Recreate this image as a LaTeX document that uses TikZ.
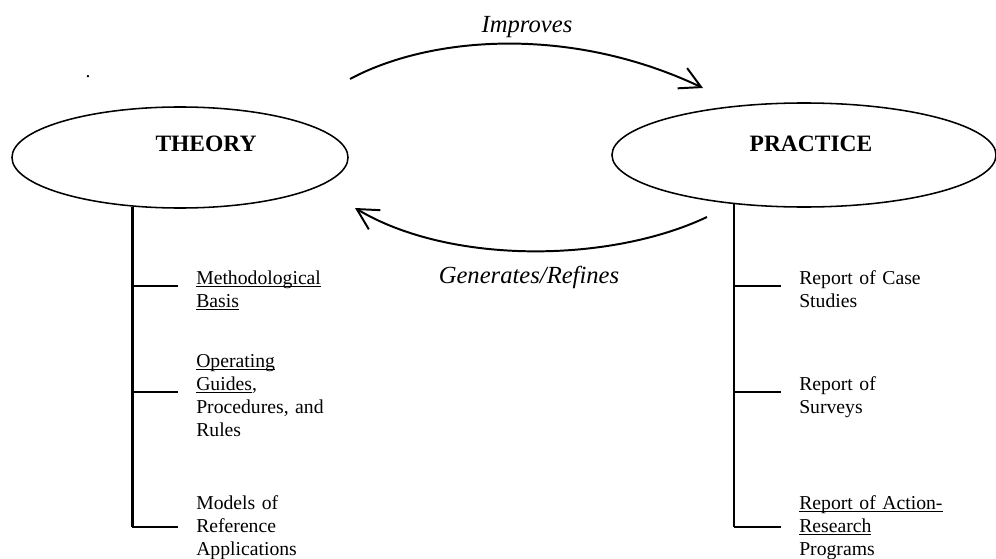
\documentclass[tikz,border=0pt]{standalone}
\usepackage{fontspec}
\setmainfont{Liberation Serif}
\usepackage{tikz}
\usetikzlibrary{
	arrows.meta,
	shapes.geometric,
	positioning,
	calc
}
\newlength{\ulwidth}
\newcommand{\ulword}[1]{\leavevmode\settowidth{\ulwidth}{#1}\rlap{\rule[-2.2pt]{\ulwidth}{0.6pt}}#1}

\begin{document}
\begin{tikzpicture}[
					x=0.025cm, y=-0.025cm,
					oval/.style={
							ellipse,
							draw=black,
							line width=1.1pt,
							inner sep=0pt
						},
					oval_label/.style={
							inner sep=0pt,
							font=\fontsize{16.7}{20}\selectfont\bfseries
						},
					flow/.style={
							line width=1.4pt,
							-{Straight Barb[length=5.2mm, width=5.6mm]}
						},
					flow_label/.style={
							inner sep=0pt,
							font=\fontsize{17.5}{21}\selectfont\itshape
						},
					item/.style={
							anchor=base west,
							inner sep=0pt,
							align=left,
							text width=4cm,
							font=\fontsize{14}{16.4}\selectfont
						},
					spine/.style={
							line width=1.5pt
						},
					branch/.style={
							line width=1.5pt,
							shorten >=4.5mm
						}
				]
				\useasboundingbox (0,0) rectangle (996,559);

				\node[oval, minimum width=8.4cm, minimum height=2.525cm] (theory) at (180,157.5) {};
				\node[oval, minimum width=9.6cm, minimum height=2.6cm] (practice) at (804,155) {};
				\node[oval_label] (theory_lbl) at (206,144) {THEORY};
				\node[oval_label] (practice_lbl) at (811,144) {PRACTICE};

				\node[inner sep=0pt, anchor=base, font=\fontsize{14}{17}\selectfont] (dot) at (88,77) {.};

				\coordinate (improve_from) at (350,79);
				\coordinate (improve_to) at (703,88);
				\coordinate (refine_from) at (707,217);
				\coordinate (refine_to) at (355,208);

				\draw[flow] (improve_from) .. controls (430,36) and (570,25) .. (improve_to);
				\draw[flow] (refine_from) .. controls (610,263) and (450,265) .. (refine_to);
				\node[flow_label] (improves) at (527,27.5) {Improves};
				\node[flow_label] (refines) at (529,277) {Generates/Refines};

				\node[item] (t1) at (196,284) {\ulword{Methodological}\\\ulword{Basis}};
				\node[item] (t2) at (196,367) {\ulword{Operating}\\\ulword{Guides},\\Procedures, and\\Rules};
				\node[item] (t3) at (196,509) {Models of\\Reference\\Applications};

				\node[item] (p1) at (799,284) {Report of Case\\Studies};
				\node[item] (p2) at (799,390) {Report of\\Surveys};
				\node[item] (p3) at (799,509) {\ulword{Report of Action-}\\\ulword{Research}\\Programs};

				\coordinate (tb1) at (theory.-134 |- 0,286);
				\coordinate (tb2) at (theory.-134 |- 0,392);
				\coordinate (tb3) at (theory.-134 |- 0,527);
				\coordinate (pb1) at (practice.-145 |- 0,286);
				\coordinate (pb2) at (practice.-145 |- 0,392);
				\coordinate (pb3) at (practice.-145 |- 0,527);

				\draw[spine] (theory.-134) -- (tb3);
				\draw[spine] (practice.-145) -- (pb3);
				\foreach \b/\t in {tb1/t1, tb2/t2, tb3/t3, pb1/p1, pb2/p2, pb3/p3}
					\draw[branch] (\b) -- (\b -| \t.west);
		\end{tikzpicture}
\end{document}
